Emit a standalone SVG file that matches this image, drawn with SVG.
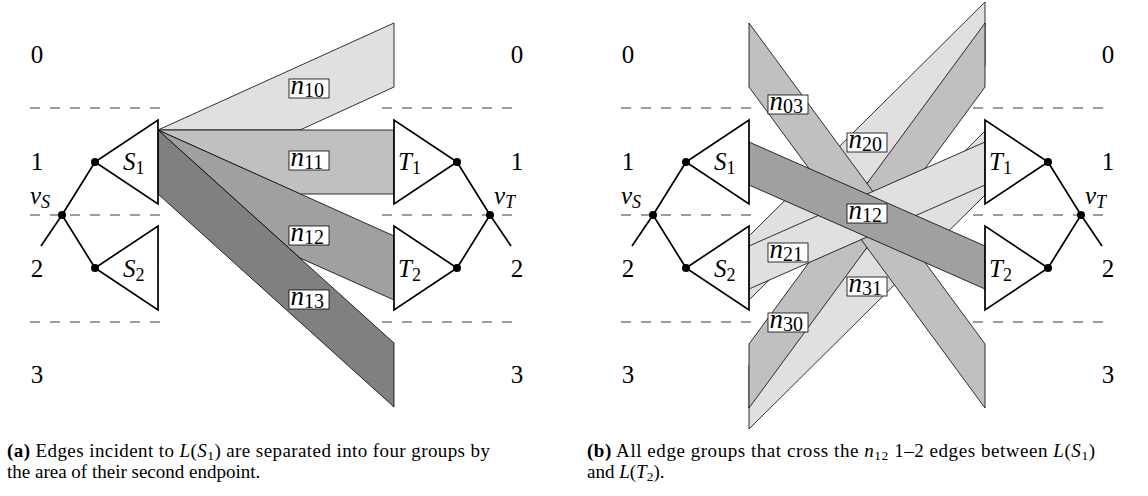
<svg xmlns="http://www.w3.org/2000/svg" width="1148" height="496" viewBox="0 0 1148 496">
<style>
.band{stroke:#000;stroke-width:0.8;stroke-linejoin:miter}
.c1{fill:#e0e0e0}.c2{fill:#c0c0c0}.c3{fill:#a0a0a0}.c4{fill:#808080}
.tri{fill:#fff;stroke:#000;stroke-width:1.7;stroke-linejoin:miter}
.tree{stroke:#000;stroke-width:1.7;fill:none}
.dot{fill:#000}
.dash{stroke:#3a3a3a;stroke-width:1;stroke-dasharray:10 10}
.lvl{font-family:"Liberation Serif","Times New Roman",serif;font-size:25px;text-anchor:middle}
.lab{font-family:"Liberation Serif","Times New Roman",serif;font-size:25px;font-style:italic}
.nl{font-family:"Liberation Serif","Times New Roman",serif;font-size:27px;font-style:italic}
.sub{font-size:18px;font-style:normal}
.nsub{font-size:20px;font-style:normal}
.isub{font-size:18px;font-style:italic}
.box{fill:#fff;stroke:#000;stroke-width:0.8}
.cap{font-family:"Liberation Serif","Times New Roman",serif;font-size:19px}
.csub{font-size:13.5px}
</style>
<defs>
<g id="lvls">
<text class="lvl" x="37" y="63">0</text><text class="lvl" x="37" y="170">1</text><text class="lvl" x="37" y="277">2</text><text class="lvl" x="37" y="383">3</text>
<text class="lvl" x="517" y="63">0</text><text class="lvl" x="517" y="170">1</text><text class="lvl" x="517" y="277">2</text><text class="lvl" x="517" y="383">3</text>
</g>
<g id="dashes">
<line class="dash" x1="30" y1="108" x2="170" y2="108"/><line class="dash" x1="30" y1="215" x2="170" y2="215"/><line class="dash" x1="30" y1="322" x2="170" y2="322"/>
<line class="dash" x1="382" y1="108" x2="522" y2="108"/><line class="dash" x1="382" y1="215" x2="522" y2="215"/><line class="dash" x1="382" y1="322" x2="522" y2="322"/>
</g>
</defs>

<!-- panel (a) -->
<g id="panel-a">
<use href="#dashes"/>
<use href="#lvls"/>
<g id="connectors-a">
<polygon class="band c1" points="158,130 394,23 394,87 300,130"/>
<polygon class="band c2" points="158,130 394,130 394,194 300,194"/>
<polygon class="band c3" points="158,130 394,236 394,300 300,258"/>
<polygon class="band c4" points="158,130 394,343 394,407 158,194"/>
<polyline class="tree" points="95,162 62,215 95,268"/>
<line class="tree" x1="62" y1="215" x2="41" y2="246"/>
<polyline class="tree" points="457,162 490,215 457,268"/>
<line class="tree" x1="490" y1="215" x2="511" y2="246"/>
</g>
<g id="a-n10"><rect class="box" x="289" y="79" width="40" height="19"/><text class="nl" x="290.5" y="93.5">n<tspan class="nsub" dy="3.5">10</tspan></text></g>
<g id="a-n11"><rect class="box" x="289" y="151" width="40" height="19"/><text class="nl" x="290.5" y="165.5">n<tspan class="nsub" dy="3.5">11</tspan></text></g>
<g id="a-n12"><rect class="box" x="289" y="226" width="40" height="19"/><text class="nl" x="290.5" y="240.5">n<tspan class="nsub" dy="3.5">12</tspan></text></g>
<g id="a-n13"><rect class="box" x="289" y="290" width="40" height="19"/><text class="nl" x="290.5" y="304.5">n<tspan class="nsub" dy="3.5">13</tspan></text></g>
<g id="a-S1"><polygon class="tri" points="95,162 158,120 158,204"/><text class="lab" x="123" y="170">S<tspan class="sub" dy="4">1</tspan></text></g>
<g id="a-S2"><polygon class="tri" points="95,268 158,226 158,310"/><text class="lab" x="123" y="277">S<tspan class="sub" dy="4">2</tspan></text></g>
<g id="a-T1"><polygon class="tri" points="457,162 394,120 394,204"/><text class="lab" x="398" y="170">T<tspan class="sub" dy="4">1</tspan></text></g>
<g id="a-T2"><polygon class="tri" points="457,268 394,226 394,310"/><text class="lab" x="398" y="277">T<tspan class="sub" dy="4">2</tspan></text></g>
<g id="a-vS"><circle class="dot" cx="62" cy="215" r="4"/><circle class="dot" cx="95" cy="162" r="4"/><circle class="dot" cx="95" cy="268" r="4"/><text class="lab" x="30" y="204">v<tspan class="isub" dy="4">S</tspan></text></g>
<g id="a-vT"><circle class="dot" cx="490" cy="215" r="4"/><circle class="dot" cx="457" cy="162" r="4"/><circle class="dot" cx="457" cy="268" r="4"/><text class="lab" x="494" y="204">v<tspan class="isub" dy="4">T</tspan></text></g>
</g>

<!-- panel (b) -->
<g id="panel-b">
<use href="#dashes" transform="translate(591,0)"/>
<use href="#lvls" transform="translate(591,0)"/>
<g id="connectors-b">
<polygon class="band c1" points="749,236 985,2 985,66 749,300"/>
<polygon class="band c1" points="749,365 985,131 985,195 749,429"/>
<polygon class="band c2" points="749,344 985,23 985,87 749,408"/>
<polygon class="band c2" points="749,23 985,344 985,408 749,87"/>
<polygon class="band c1" points="749,246 985,142 985,185 749,289"/>
<polygon class="band c3" points="749,142 985,246 985,289 749,185"/>
<g transform="translate(591,0)">
<polyline class="tree" points="95,162 62,215 95,268"/>
<line class="tree" x1="62" y1="215" x2="41" y2="246"/>
<polyline class="tree" points="457,162 490,215 457,268"/>
<line class="tree" x1="490" y1="215" x2="511" y2="246"/>
</g>
</g>
<g id="b-n03"><rect class="box" x="768" y="95" width="40" height="19"/><text class="nl" x="769.5" y="109.5">n<tspan class="nsub" dy="3.5">03</tspan></text></g>
<g id="b-n20"><rect class="box" x="847" y="133" width="40" height="19"/><text class="nl" x="848.5" y="147.5">n<tspan class="nsub" dy="3.5">20</tspan></text></g>
<g id="b-n12"><rect class="box" x="847" y="204" width="40" height="19"/><text class="nl" x="848.5" y="218.5">n<tspan class="nsub" dy="3.5">12</tspan></text></g>
<g id="b-n21"><rect class="box" x="768" y="243" width="40" height="19"/><text class="nl" x="769.5" y="257.5">n<tspan class="nsub" dy="3.5">21</tspan></text></g>
<g id="b-n31"><rect class="box" x="847" y="277" width="40" height="19"/><text class="nl" x="848.5" y="291.5">n<tspan class="nsub" dy="3.5">31</tspan></text></g>
<g id="b-n30"><rect class="box" x="768" y="313" width="40" height="19"/><text class="nl" x="769.5" y="327.5">n<tspan class="nsub" dy="3.5">30</tspan></text></g>
<g transform="translate(591,0)">
<g id="b-S1"><polygon class="tri" points="95,162 158,120 158,204"/><text class="lab" x="123" y="170">S<tspan class="sub" dy="4">1</tspan></text></g>
<g id="b-S2"><polygon class="tri" points="95,268 158,226 158,310"/><text class="lab" x="123" y="277">S<tspan class="sub" dy="4">2</tspan></text></g>
<g id="b-T1"><polygon class="tri" points="457,162 394,120 394,204"/><text class="lab" x="398" y="170">T<tspan class="sub" dy="4">1</tspan></text></g>
<g id="b-T2"><polygon class="tri" points="457,268 394,226 394,310"/><text class="lab" x="398" y="277">T<tspan class="sub" dy="4">2</tspan></text></g>
<g id="b-vS"><circle class="dot" cx="62" cy="215" r="4"/><circle class="dot" cx="95" cy="162" r="4"/><circle class="dot" cx="95" cy="268" r="4"/><text class="lab" x="30" y="204">v<tspan class="isub" dy="4">S</tspan></text></g>
<g id="b-vT"><circle class="dot" cx="490" cy="215" r="4"/><circle class="dot" cx="457" cy="162" r="4"/><circle class="dot" cx="457" cy="268" r="4"/><text class="lab" x="494" y="204">v<tspan class="isub" dy="4">T</tspan></text></g>
</g>
</g>

<!-- captions -->
<g id="caption-a" class="cap">
<text x="7" y="457" textLength="483" lengthAdjust="spacing"><tspan font-weight="bold">(a)</tspan> Edges incident to <tspan font-style="italic">L</tspan>(<tspan font-style="italic">S</tspan><tspan class="csub" dy="3">1</tspan><tspan dy="-3">) are separated into four groups by</tspan></text>
<text x="7" y="478">the area of their second endpoint.</text>
</g>
<g id="caption-b" class="cap">
<text x="587" y="457" textLength="508" lengthAdjust="spacing"><tspan font-weight="bold">(b)</tspan> All edge groups that cross the <tspan font-style="italic">n</tspan><tspan class="csub" dy="3">12</tspan><tspan dy="-3"> 1–2 edges between </tspan><tspan font-style="italic">L</tspan>(<tspan font-style="italic">S</tspan><tspan class="csub" dy="3">1</tspan><tspan dy="-3">)</tspan></text>
<text x="587" y="478">and <tspan font-style="italic">L</tspan>(<tspan font-style="italic">T</tspan><tspan class="csub" dy="3">2</tspan><tspan dy="-3">).</tspan></text>
</g>
</svg>
